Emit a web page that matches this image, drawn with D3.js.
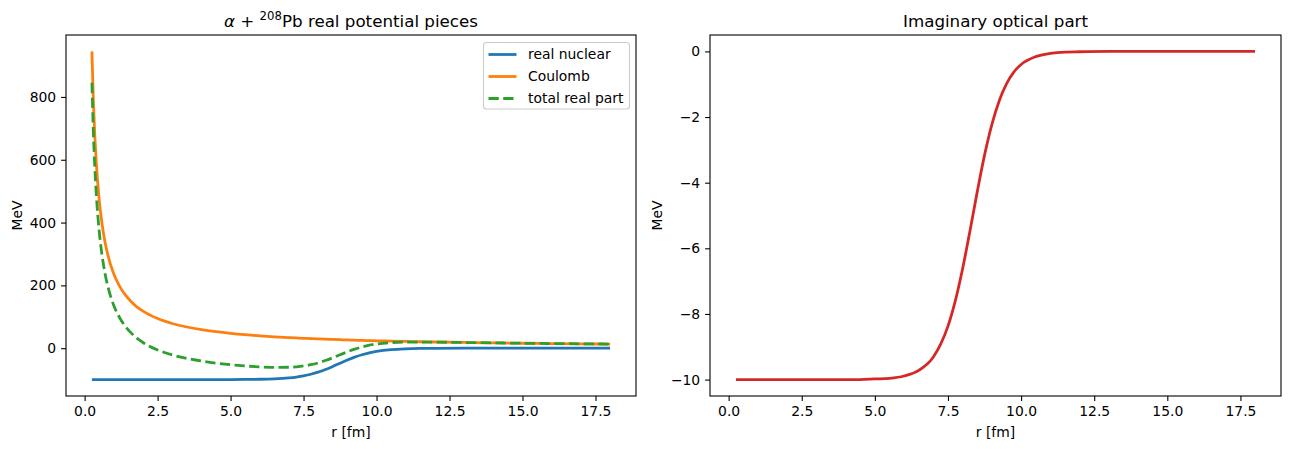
<!DOCTYPE html>
<html>
<head>
<meta charset="utf-8">
<script src="https://cdn.jsdelivr.net/npm/d3@7"></script>
<style>
  body { margin: 0; background: #fff; }
  svg { font-family: "DejaVu Sans", sans-serif; }
  .tick text { font-size: 13.9px; fill: #000; }
  .tick line { stroke: #000; stroke-width: 1.1; }
</style>
</head>
<body>
<div id="viz"></div>
<script>
// radius grid [fm] and potentials [MeV]
var r = [0.25, 0.3, 0.35, 0.4, 0.5, 0.6, 0.7, 0.8, 1.0, 1.2, 1.4, 1.6, 1.8, 2.0, 2.5, 3.0, 3.5, 4.0, 4.5, 5.0,
         5.5, 6.0, 6.5, 7.0, 7.25, 7.5, 7.75, 8.0, 8.25, 8.5, 8.75, 9.0, 9.25, 9.5, 9.75, 10.0, 10.5, 11.0, 11.5, 12.0,
         13.0, 14.0, 15.0, 16.0, 17.0, 18.0];

var realNuclear = [-100, -100, -100, -100, -100, -100, -100, -100, -100, -100, -100, -100, -100, -100, -100, -100, -100, -100, -100, -99.8,
         -99.5, -98.9, -97.5, -94.4, -91.8, -88.1, -83.0, -76.3, -67.9, -58.2, -47.9, -37.8, -28.6, -20.9, -14.8, -10.3, -4.7, -2.1, -0.9, -0.4,
         -0.1, 0, 0, 0, 0, 0];

var coulomb = [945, 787, 675, 590, 472, 394, 337, 295, 236, 197, 169, 148, 131, 118, 94.5, 78.7, 67.5, 59, 52.5, 47.2,
         42.9, 39.4, 36.3, 33.7, 32.6, 31.5, 30.5, 29.5, 28.6, 27.8, 27.0, 26.2, 25.5, 24.9, 24.2, 23.6, 22.5, 21.5, 20.5, 19.7,
         18.2, 16.9, 15.7, 14.8, 13.9, 13.1];

var totalReal = [845, 687, 575, 490, 372, 294, 237, 195, 136, 97, 69, 48, 31, 18, -5.5, -21.3, -32.5, -41, -47.5, -52.6,
         -56.6, -59.5, -61.2, -60.7, -59.2, -56.6, -52.5, -46.8, -39.3, -30.4, -20.9, -11.6, -3.1, 4.0, 9.4, 13.3, 17.8, 19.4, 19.6, 19.3,
         18.1, 16.9, 15.7, 14.8, 13.9, 13.1];

var imagPart = [-10, -10, -10, -10, -10, -10, -10, -10, -10, -10, -10, -10, -10, -10, -10, -10, -10, -10, -10, -9.98,
         -9.96, -9.89, -9.72, -9.31, -8.92, -8.37, -7.60, -6.62, -5.48, -4.28, -3.16, -2.23, -1.51, -0.99, -0.63, -0.40, -0.16, -0.06, -0.02, -0.01,
         0, 0, 0, 0, 0, 0];

var xTicks = [0, 2.5, 5, 7.5, 10, 12.5, 15, 17.5];
var yTicksLeft = [0, 200, 400, 600, 800];
var yTicksRight = [0, -2, -4, -6, -8, -10];

const W = 1289, H = 449;
const plotTop = 35, plotBottom = 396;

const svg = d3.select("#viz").append("svg")
    .attr("width", W)
    .attr("height", H);

// matplotlib-like 5% padding
function padded(ext) {
  const p = (ext[1] - ext[0]) * 0.05;
  return [ext[0] - p, ext[1] + p];
}

function panel(opts) {
  const x = d3.scaleLinear().domain(padded(d3.extent(r))).range([opts.left, opts.right]);
  const allY = [].concat(...opts.series.map(s => s.values));
  const y = d3.scaleLinear().domain(padded(d3.extent(allY))).range([plotBottom, plotTop]);

  const g = svg.append("g");

  g.append("g")
      .attr("transform", `translate(0,${plotBottom})`)
      .call(d3.axisBottom(x).tickValues(xTicks).tickFormat(d3.format(".1f")).tickSize(4.9).tickPadding(4.9).tickSizeOuter(0))
      .call(a => a.select(".domain").remove());

  g.append("g")
      .attr("transform", `translate(${opts.left},0)`)
      .call(d3.axisLeft(y).tickValues(opts.yTicks).tickFormat(d3.format("d")).tickSize(4.9).tickPadding(4.9).tickSizeOuter(0))
      .call(a => a.select(".domain").remove());

  g.selectAll(".tick text").attr("font-family", "DejaVu Sans");

  const clipId = "clip" + opts.left;
  svg.append("clipPath").attr("id", clipId)
    .append("rect")
      .attr("x", opts.left).attr("y", plotTop)
      .attr("width", opts.right - opts.left).attr("height", plotBottom - plotTop);

  const line = d3.line()
      .x((d, i) => x(r[i]))
      .y(d => y(d))
      .curve(d3.curveMonotoneX);

  opts.series.forEach(s => {
    g.append("path")
        .datum(s.values)
        .attr("clip-path", `url(#${clipId})`)
        .attr("fill", "none")
        .attr("stroke", s.color)
        .attr("stroke-width", 2.78)
        .attr("stroke-dasharray", s.dash || null)
        .attr("d", line);
  });

  // frame
  g.append("rect")
      .attr("x", opts.left).attr("y", plotTop)
      .attr("width", opts.right - opts.left).attr("height", plotBottom - plotTop)
      .attr("fill", "none").attr("stroke", "#000").attr("stroke-width", 1.1);

  // x label
  g.append("text")
      .attr("x", (opts.left + opts.right) / 2)
      .attr("y", 437)
      .attr("text-anchor", "middle")
      .attr("font-size", 13.9)
      .text("r [fm]");

  // y label
  g.append("text")
      .attr("transform", `translate(${opts.ylabelX},${(plotTop + plotBottom) / 2}) rotate(-90)`)
      .attr("text-anchor", "middle")
      .attr("dy", "0.35em")
      .attr("font-size", 13.9)
      .text("MeV");

  return g;
}

// left panel: real parts
const gl = panel({
  left: 66, right: 636, yTicks: yTicksLeft, ylabelX: 17,
  series: [
    {values: realNuclear, color: "#1f77b4", label: "real nuclear"},
    {values: coulomb, color: "#ff7f0e", label: "Coulomb"},
    {values: totalReal, color: "#2ca02c", dash: "10.3,4.4", label: "total real part"}
  ]
});

const title1 = gl.append("text")
    .attr("x", 351).attr("y", 26.5)
    .attr("text-anchor", "middle")
    .attr("font-size", 16.7);
title1.append("tspan").attr("font-style", "italic").text("α");
title1.append("tspan").text(" + ");
title1.append("tspan").attr("font-size", 11.7).attr("dy", -6.5).text("208");
title1.append("tspan").attr("dy", 6.5).text("Pb real potential pieces");

// legend
const legend = gl.append("g");
legend.append("rect")
    .attr("x", 483.5).attr("y", 42.5)
    .attr("width", 146).attr("height", 66.5)
    .attr("rx", 3)
    .attr("fill", "#fff").attr("fill-opacity", 0.8)
    .attr("stroke", "#cccccc").attr("stroke-width", 1.1);

const legendItems = [
  {color: "#1f77b4", label: "real nuclear"},
  {color: "#ff7f0e", label: "Coulomb"},
  {color: "#2ca02c", dash: "10.3,4.4", label: "total real part"}
];
legendItems.forEach((d, i) => {
  const yy = 54.5 + i * 22;
  legend.append("line")
      .attr("x1", 488.5).attr("x2", 516.5)
      .attr("y1", yy).attr("y2", yy)
      .attr("stroke", d.color).attr("stroke-width", 2.78)
      .attr("stroke-dasharray", d.dash || null);
  legend.append("text")
      .attr("x", 528).attr("y", yy)
      .attr("dy", "0.35em")
      .attr("font-size", 13.9)
      .text(d.label);
});

// right panel: imaginary part
const gr = panel({
  left: 710, right: 1281, yTicks: yTicksRight, ylabelX: 657,
  series: [
    {values: imagPart, color: "#d62728", label: "imaginary"}
  ]
});

gr.append("text")
    .attr("x", 995.5).attr("y", 26.5)
    .attr("text-anchor", "middle")
    .attr("font-size", 16.7)
    .text("Imaginary optical part");
</script>
</body>
</html>
